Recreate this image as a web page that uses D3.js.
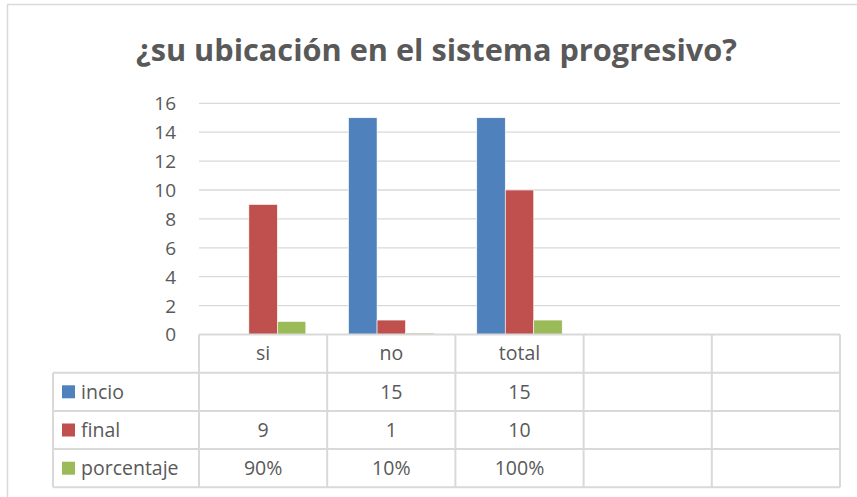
<!DOCTYPE html>
<html>
<head>
<meta charset="utf-8">
<script src="https://cdn.jsdelivr.net/npm/d3@7/dist/d3.min.js"></script>
<style>
body { margin: 0; background: #fff; }
svg { display: block; }
</style>
</head>
<body>
<div id="viz"></div>
<script>
var width = 857;
var height = 497;

// chart data
var title = "¿su ubicación en el sistema progresivo?";
var categories = ["si", "no", "total", "", ""];
var seriesNames = ["incio", "final", "porcentaje"];
var incio = [null, 15, 15, null, null];
var final = [9, 1, 10, null, null];
var porcentaje = [0.9, 0.1, 1.0, null, null];
var yTicks = [0, 2, 4, 6, 8, 10, 12, 14, 16];

var colors = ["#4f81bd", "#c0504d", "#9bbb59"];
var seriesData = [incio, final, porcentaje];
var fmt = [
	function(d){ return d == null ? "" : d; },
	function(d){ return d == null ? "" : d; },
	function(d){ return d == null ? "" : d3.format(".0%")(d); }
];

var font = "'Open Sans', 'Liberation Sans', sans-serif";
var textColor = "#595959";
var gridColor = "#d9d9d9";

var plotLeft = 199, plotRight = 840, plotTop = 103.3, plotBottom = 334.5;
var rowH = 38.2;
var legendLeft = 53;

var canvas = d3.select("#viz")
	.append("svg")
	.attr("width", width)
	.attr("height", height);

// outer chart border (right/bottom cut off in the picture)
canvas.append("rect")
	.attr("x", 7.5)
	.attr("y", 4.5)
	.attr("width", 900)
	.attr("height", 600)
	.attr("fill", "none")
	.attr("stroke", gridColor)
	.attr("stroke-width", 1.5);

canvas.append("text")
	.attr("x", 436.5)
	.attr("y", 61)
	.attr("text-anchor", "middle")
	.attr("font-family", font)
	.attr("font-weight", "bold")
	.attr("font-size", 31)
	.attr("fill", textColor)
	.attr("textLength", 601)
	.attr("lengthAdjust", "spacingAndGlyphs")
	.text(title);

var x0 = d3.scaleBand()
	.domain(d3.range(categories.length))
	.range([plotLeft, plotRight]);

var x1 = d3.scaleBand()
	.domain(d3.range(seriesNames.length))
	.range([0, x0.bandwidth()])
	.paddingOuter(0.75);

var y = d3.scaleLinear()
	.domain([0, 16])
	.range([plotBottom, plotTop]);

// gridlines
canvas.append("g")
	.selectAll("line")
	.data(yTicks.slice(1))
	.enter()
		.append("line")
		.attr("x1", plotLeft)
		.attr("x2", plotRight)
		.attr("y1", function(d){ return y(d); })
		.attr("y2", function(d){ return y(d); })
		.attr("stroke", gridColor)
		.attr("stroke-width", 1.3);

var yAxis = d3.axisLeft(y)
	.tickValues(yTicks)
	.tickSize(0)
	.tickPadding(0);

var yG = canvas.append("g")
	.attr("transform", "translate(176,0)")
	.call(yAxis);
yG.select(".domain").remove();
yG.selectAll("text")
	.attr("font-family", font)
	.attr("font-size", 19)
	.attr("fill", textColor)
	.attr("dy", "0.34em");

// bars
var groups = canvas.append("g")
	.selectAll("g")
	.data(seriesData)
	.enter()
		.append("g")
		.attr("fill", function(d, i){ return colors[i]; });

groups.each(function(vals, si) {
	d3.select(this).selectAll("rect")
		.data(vals.map(function(v, ci){ return {v: v, c: ci}; }).filter(function(d){ return d.v != null; }))
		.enter()
			.append("rect")
			.attr("x", function(d){ return x0(d.c) + x1(si); })
			.attr("width", x1.bandwidth())
			.attr("y", function(d){ return y(d.v); })
			.attr("height", function(d){ return y(0) - y(d.v); })
			.attr("stroke", "#fff")
			.attr("stroke-width", 0.6);
});

// data table
var table = canvas.append("g");
var tableTop = plotBottom;
var rowsTop = tableTop + rowH;
var tableBottom = rowsTop + rowH * seriesNames.length;

// horizontal lines
table.append("line")
	.attr("x1", plotLeft).attr("x2", plotRight)
	.attr("y1", tableTop).attr("y2", tableTop);
table.selectAll(".hrow")
	.data(d3.range(seriesNames.length + 1))
	.enter()
		.append("line")
		.attr("class", "hrow")
		.attr("x1", legendLeft).attr("x2", plotRight)
		.attr("y1", function(d){ return rowsTop + d * rowH; })
		.attr("y2", function(d){ return rowsTop + d * rowH; });
// vertical lines
table.append("line")
	.attr("x1", legendLeft).attr("x2", legendLeft)
	.attr("y1", rowsTop).attr("y2", tableBottom);
table.selectAll(".vcol")
	.data(d3.range(categories.length + 1))
	.enter()
		.append("line")
		.attr("class", "vcol")
		.attr("x1", function(d){ return plotLeft + d * x0.step(); })
		.attr("x2", function(d){ return plotLeft + d * x0.step(); })
		.attr("y1", tableTop).attr("y2", tableBottom);
table.selectAll("line")
	.attr("stroke", gridColor)
	.attr("stroke-width", 2);

// category header
table.selectAll(".cat")
	.data(categories)
	.enter()
		.append("text")
		.attr("class", "cat")
		.attr("x", function(d, i){ return x0(i) + x0.bandwidth() / 2; })
		.attr("y", tableTop + rowH / 2)
		.attr("dy", "0.35em")
		.attr("text-anchor", "middle")
		.text(function(d){ return d; });

// legend keys and row labels
var rows = table.selectAll(".row")
	.data(seriesNames)
	.enter()
		.append("g")
		.attr("class", "row")
		.attr("transform", function(d, i){ return "translate(0," + (rowsTop + i * rowH + rowH / 2) + ")"; });

rows.append("rect")
	.attr("x", 62)
	.attr("y", -6.5)
	.attr("width", 13)
	.attr("height", 13)
	.attr("fill", function(d, i){ return colors[i]; });

rows.append("text")
	.attr("x", 81)
	.attr("dy", "0.35em")
	.text(function(d){ return d; });

rows.each(function(name, si) {
	d3.select(this).selectAll(".val")
		.data(seriesData[si])
		.enter()
			.append("text")
			.attr("class", "val")
			.attr("x", function(d, i){ return x0(i) + x0.bandwidth() / 2; })
			.attr("dy", "0.35em")
			.attr("text-anchor", "middle")
			.text(function(d){ return fmt[si](d); });
});

table.selectAll("text")
	.attr("font-family", font)
	.attr("font-size", 19.5)
	.attr("fill", textColor);
</script>
</body>
</html>
